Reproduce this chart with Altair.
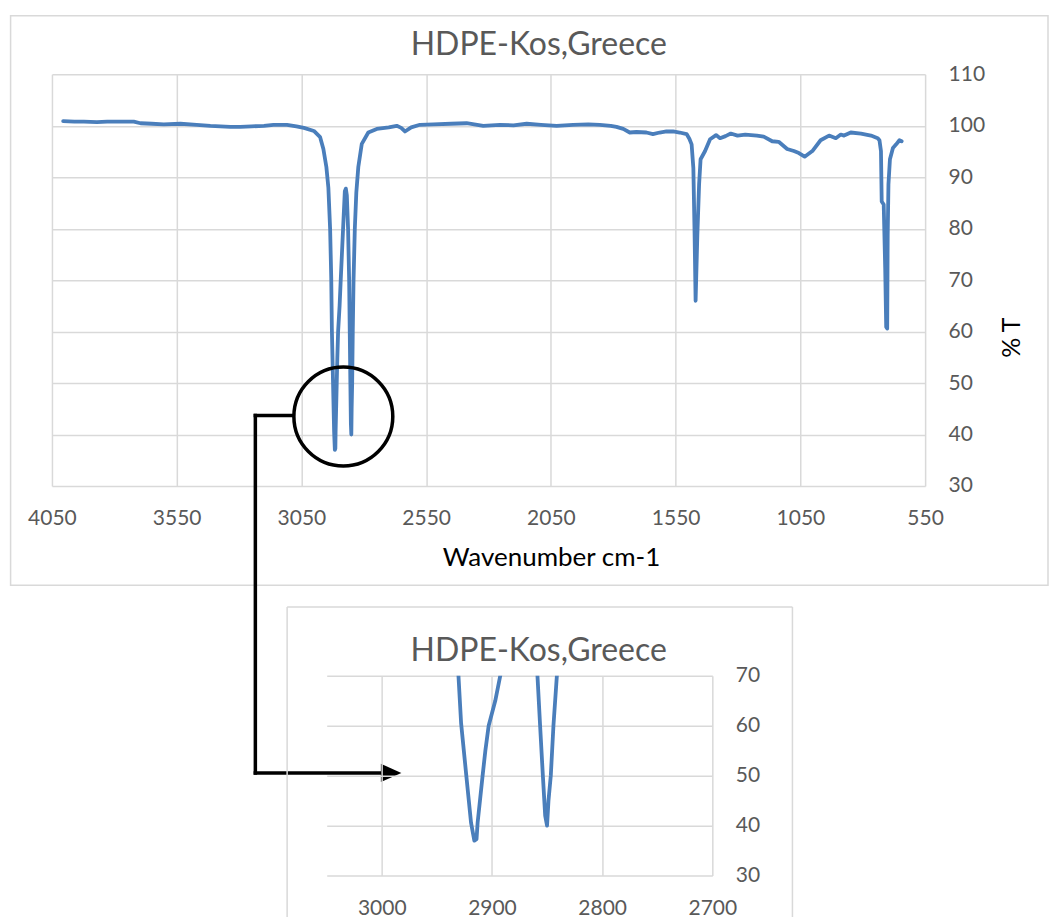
import altair as alt
import pandas as pd

# FTIR spectrum of HDPE (Kos, Greece): wavenumber (cm-1) vs transmittance (%)
wavenumber = [
    4005, 3960, 3922, 3870, 3829, 3780, 3722, 3695, 3650, 3602,
    3535, 3470, 3415, 3335, 3295, 3250, 3200, 3162, 3108, 3070,
    3040, 3000, 2975, 2962, 2950, 2942, 2935, 2930.5, 2928, 2923.5,
    2919, 2916, 2914, 2913, 2908.5, 2906, 2903, 2897, 2892.5, 2884,
    2876, 2872, 2868, 2863, 2858.7, 2856.3, 2853.8, 2851.7, 2850, 2848.7,
    2846.6, 2844.2, 2841.1, 2836, 2830, 2822, 2808, 2782, 2748, 2700,
    2668, 2650, 2635, 2610, 2575, 2521, 2450, 2388, 2321, 2254,
    2200, 2147, 2090, 2027, 1961, 1900, 1854, 1810, 1787, 1760,
    1734, 1707, 1667, 1641, 1614, 1587, 1560, 1534, 1506, 1495,
    1486, 1479, 1474, 1470, 1463, 1456, 1450, 1432, 1412, 1388,
    1372, 1350, 1329, 1302, 1271, 1224, 1197, 1163, 1137, 1103,
    1076, 1056, 1033, 1002, 969, 935, 908, 888, 875, 848,
    807, 767, 740, 733, 727, 724, 716, 710, 706, 702,
    700, 697, 691, 679, 666, 653, 644,
]
transmittance = [
    100.9, 100.8, 100.8, 100.7, 100.8, 100.8, 100.8, 100.5, 100.4, 100.3,
    100.4, 100.2, 100.0, 99.8, 99.8, 99.9, 100.0, 100.2, 100.2, 99.9,
    99.6, 99.0, 97.8, 95.5, 92.0, 88.0, 80.0, 70.4, 60.5, 50.5,
    40.6, 37.0, 37.3, 40.6, 50.0, 55.0, 60.0, 65.0, 70.0, 79.0,
    87.3, 87.8, 86.5, 80.0, 70.0, 60.0, 50.0, 42.0, 40.0, 45.0,
    50.0, 60.0, 70.0, 80.0, 87.0, 92.0, 96.5, 98.7, 99.4, 99.7,
    100.0, 99.6, 98.9, 99.7, 100.2, 100.3, 100.4, 100.5, 100.0, 100.2,
    100.1, 100.4, 100.2, 100.0, 100.2, 100.3, 100.2, 100.0, 99.8, 99.4,
    98.7, 98.8, 98.7, 98.4, 98.7, 98.9, 98.9, 98.7, 98.4, 97.5,
    96.4, 91.8, 78.8, 66.0, 78.8, 88.6, 93.5, 95.1, 97.4, 98.2,
    97.6, 98.0, 98.5, 98.1, 98.3, 98.1, 97.9, 97.0, 96.9, 95.5,
    95.1, 94.7, 94.0, 95.1, 97.2, 98.1, 97.6, 98.3, 98.1, 98.7,
    98.5, 98.1, 97.6, 97.2, 95.1, 85.3, 84.7, 72.3, 60.9, 60.6,
    78.8, 88.6, 93.5, 95.7, 96.4, 97.2, 97.0,
]

main_x_ticks = [4050, 3550, 3050, 2550, 2050, 1550, 1050, 550]
main_y_ticks = [30, 40, 50, 60, 70, 80, 90, 100, 110]
inset_x_ticks = [3000, 2900, 2800, 2700]
inset_y_ticks = [30, 40, 50, 60, 70]

# centre of the highlighted C-H stretching region
zoom_wavenumber = [2882]
zoom_transmittance = [43.5]

chart_title = "HDPE-Kos,Greece"

spectrum = pd.DataFrame({"wavenumber": wavenumber, "T": transmittance})
zoom_spot = pd.DataFrame({"wavenumber": zoom_wavenumber, "T": zoom_transmittance})
one = pd.DataFrame({"k": [0]})

FONT = "Lato"
LINE = "#4A7EBB"
GRID = "#D9D9D9"
TEXT = "#595959"
INK = "#000000"

W, H = 874, 412
IW, IH = 386, 200


def axis_x(values, **kw):
    return alt.Axis(values=values, format="d", grid=True, domain=False, ticks=False,
                    labelFlush=False, labelPadding=22, labelFont=FONT, labelFontSize=21,
                    labelColor=TEXT, labelOverlap=False, **kw)


def axis_y(values, **kw):
    return alt.Axis(orient="right", values=values, format="d", grid=True, domain=False,
                    ticks=False, labelFlush=False, labelAlign="left", labelPadding=23,
                    labelFont=FONT, labelFontSize=21, labelColor=TEXT, labelOverlap=False,
                    **kw)


# ---------------- full spectrum ----------------
main_x = alt.X("wavenumber:Q",
               scale=alt.Scale(domain=[4050, 550], nice=False, zero=False),
               axis=axis_x(main_x_ticks, title="Wavenumber cm-1", titleX=499.6, titleY=72,
                           titleAlign="center", titleBaseline="middle", titleFont=FONT,
                           titleFontSize=26, titleFontWeight="normal", titleColor=INK))
main_y = alt.Y("T:Q",
               scale=alt.Scale(domain=[30, 110], nice=False, zero=False),
               axis=axis_y(main_y_ticks, title="% T", titleAngle=270, titleX=86, titleY=263,
                           titleAlign="center", titleBaseline="middle", titleFont=FONT,
                           titleFontSize=25, titleFontWeight="normal", titleColor=INK))

main_frame = alt.Chart(one).mark_rect(fillOpacity=0, stroke=GRID, strokeWidth=1.5).encode(
    x=alt.value(-41.4), x2=alt.value(997), y=alt.value(-58.6), y2=alt.value(511.4))

main_line = alt.Chart(spectrum).mark_line(
    color=LINE, strokeWidth=3.8, strokeJoin="round", strokeCap="round").encode(
    x=main_x, y=main_y)

main_title = alt.Chart(one).mark_text(
    text=chart_title, font=FONT, fontSize=32, color=TEXT, align="center", baseline="middle"
).encode(x=alt.value(487.3), y=alt.value(-29.6))

zoom_circle = alt.Chart(zoom_spot).mark_point(
    shape="circle", size=9801, filled=False, color=INK, strokeWidth=3.5, opacity=1
).encode(x="wavenumber:Q", y="T:Q")

link_top = alt.Chart(one).mark_rule(color=INK, strokeWidth=3.5, strokeCap="square").encode(
    x=alt.value(203.6), x2=alt.value(241.5), y=alt.value(341.4))
link_down = alt.Chart(one).mark_rule(color=INK, strokeWidth=3.5, strokeCap="square").encode(
    x=alt.value(203.6), y=alt.value(341.4), y2=alt.value(699.2))
link_bottom = alt.Chart(one).mark_rule(color=INK, strokeWidth=3.5, strokeCap="square").encode(
    x=alt.value(203.6), x2=alt.value(336), y=alt.value(699.2))
arrow_head = alt.Chart(one).mark_point(
    shape="M 1 0 L -1 -0.9 L -1 0.9 Z", size=420, filled=True, color=INK, opacity=1
).encode(x=alt.value(339.5), y=alt.value(699.2))

main = alt.layer(
    main_frame, main_line, main_title, zoom_circle,
    link_top, link_down, link_bottom, arrow_head,
).properties(width=W, height=H)

# ---------------- zoomed C-H stretching region ----------------
inset_x = alt.X("wavenumber:Q",
                scale=alt.Scale(domain=[3050, 2700], nice=False, zero=False),
                axis=axis_x(inset_x_ticks, title=None))
inset_y = alt.Y("T:Q",
                scale=alt.Scale(domain=[30, 70], nice=False, zero=False),
                axis=axis_y(inset_y_ticks, title=None))

inset_line = alt.Chart(spectrum).mark_line(
    color=LINE, strokeWidth=3.8, strokeJoin="round", strokeCap="round", clip=True
).encode(x=inset_x, y=inset_y)

inset_title = alt.Chart(one).mark_text(
    text=chart_title, font=FONT, fontSize=32, color=TEXT, align="center", baseline="middle"
).encode(x=alt.value(212.2), y=alt.value(-24.5))

inset_left = alt.Chart(one).mark_rule(color=GRID, strokeWidth=1.5).encode(
    x=alt.value(-39.6), y=alt.value(-68.8), y2=alt.value(241.5))
inset_top = alt.Chart(one).mark_rule(color=GRID, strokeWidth=1.5).encode(
    x=alt.value(-39.6), x2=alt.value(466.2), y=alt.value(-68.8))
inset_right = alt.Chart(one).mark_rule(color=GRID, strokeWidth=1.5).encode(
    x=alt.value(466.2), y=alt.value(-68.8), y2=alt.value(241.5))

inset = alt.layer(
    inset_left, inset_top, inset_right, inset_line, inset_title
).properties(width=IW, height=IH)

# empty cell that shifts the zoomed view to the right
spacer = alt.Chart(one).mark_point(opacity=0).encode(
    x=alt.value(0), y=alt.value(0)).properties(width=275, height=IH)

lower = alt.hconcat(spacer, inset, spacing=0, bounds="flush")

chart = alt.vconcat(main, lower, spacing=190, bounds="flush").properties(
    padding={"left": 9, "top": 14, "right": 0, "bottom": 0}
).configure_view(stroke="transparent").configure_axis(
    gridColor=GRID, gridWidth=1.5
)

chart.save("out.html", embed_options={"renderer": "svg", "actions": False})
